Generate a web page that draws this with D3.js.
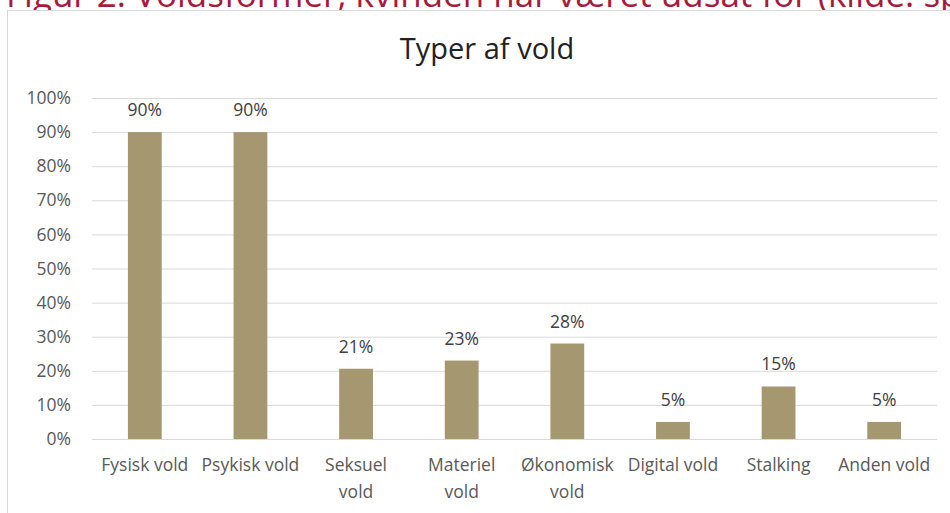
<!DOCTYPE html>
<html>
<head>
<meta charset="utf-8">
<script src="https://cdn.jsdelivr.net/npm/d3@7"></script>
<style>
  html, body { margin: 0; padding: 0; background: #fff; overflow: hidden; }
  svg { display: block; }
</style>
</head>
<body>
<div id="container"></div>
<script>
// data
const categories = ['Fysisk vold', 'Psykisk vold', 'Seksuel\nvold', 'Materiel\nvold', 'Økonomisk\nvold', 'Digital vold', 'Stalking', 'Anden vold'];
const shares = [0.90, 0.90, 0.206, 0.23, 0.28, 0.05, 0.154, 0.05];
const yTicks = [0, 0.1, 0.2, 0.3, 0.4, 0.5, 0.6, 0.7, 0.8, 0.9, 1.0];
const chartTitle = 'Typer af vold';
const figureCaption = 'Figur 2: Voldsformer, kvinden har været udsat for (kilde: spørgeskema)';

const width = 950, height = 513;
const font = '"Open Sans", "DejaVu Sans", sans-serif';
const pct = d3.format('.0%');

const svg = d3.select('#container')
  .append('svg')
  .attr('width', width)
  .attr('height', height);

// caption above the chart, cut off at the top like in the source page
svg.append('text')
  .attr('x', 6)
  .attr('y', 7)
  .attr('fill', '#a8193a')
  .attr('font-family', font)
  .attr('font-size', 35)
  .text(figureCaption);

// chart frame
svg.append('rect')
  .attr('x', 7.5)
  .attr('y', 10.5)
  .attr('width', 1000)
  .attr('height', 600)
  .attr('fill', '#fff')
  .attr('stroke', '#d9d9d9');

svg.append('text')
  .attr('x', 487)
  .attr('y', 59)
  .attr('text-anchor', 'middle')
  .attr('fill', '#222')
  .attr('font-family', font)
  .attr('font-size', 29)
  .text(chartTitle);

const x = d3.scaleBand()
  .domain(categories)
  .range([92, 937])
  .paddingInner(0.68)
  .paddingOuter(0.34);

const y = d3.scaleLinear()
  .domain([0, 1])
  .range([439, 98]);

// gridlines + y labels
const yAxis = svg.append('g')
  .attr('transform', 'translate(92,0)')
  .call(d3.axisLeft(y).tickValues(yTicks).tickFormat(pct).tickSize(-845).tickPadding(21));
yAxis.select('.domain').remove();
yAxis.selectAll('.tick line').attr('stroke', '#d9d9d9');
yAxis.selectAll('.tick text')
  .attr('fill', '#595959')
  .attr('font-family', font)
  .attr('font-size', 17.5);

svg.selectAll('.bar')
  .data(shares)
  .enter()
  .append('rect')
  .attr('class', 'bar')
  .attr('x', (d, i) => x(categories[i]))
  .attr('y', d => y(d))
  .attr('width', x.bandwidth())
  .attr('height', d => y(0) - y(d))
  .attr('fill', '#a5976f');

svg.selectAll('.val')
  .data(shares)
  .enter()
  .append('text')
  .attr('class', 'val')
  .attr('x', (d, i) => x(categories[i]) + x.bandwidth() / 2)
  .attr('y', d => y(d) - 16)
  .attr('text-anchor', 'middle')
  .attr('fill', '#404040')
  .attr('font-family', font)
  .attr('font-size', 17.5)
  .text(d => pct(d));

// category labels, wrapped where the original wraps
const xl = svg.selectAll('.cat')
  .data(categories)
  .enter()
  .append('text')
  .attr('class', 'cat')
  .attr('x', d => x(d) + x.bandwidth() / 2)
  .attr('y', 471)
  .attr('text-anchor', 'middle')
  .attr('fill', '#595959')
  .attr('font-family', font)
  .attr('font-size', 17.5);

xl.each(function (d) {
  const t = d3.select(this);
  d.split('\n').forEach((line, i) => {
    t.append('tspan')
      .attr('x', t.attr('x'))
      .attr('dy', i === 0 ? 0 : 27)
      .text(line);
  });
});
</script>
</body>
</html>
